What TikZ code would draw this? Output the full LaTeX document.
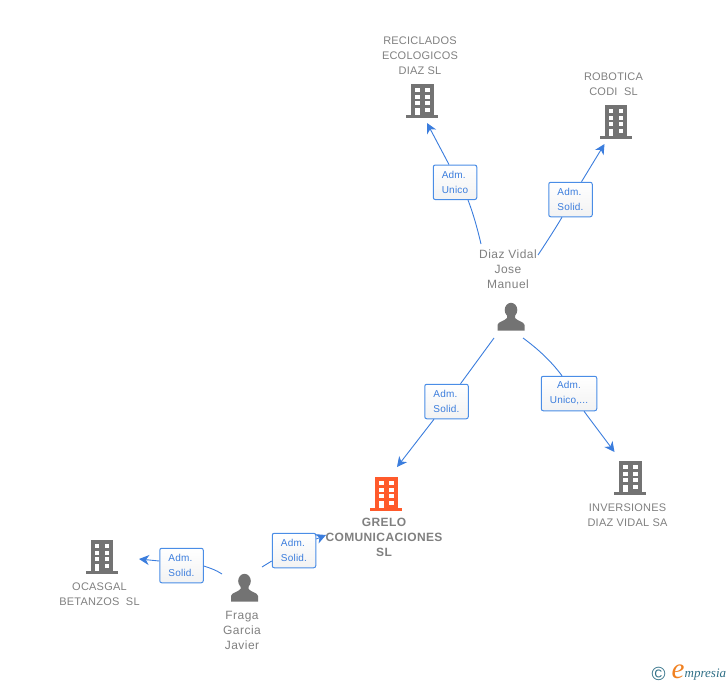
\documentclass[tikz,border=0pt]{standalone}
\usepackage{fontspec}
\setmainfont{Liberation Sans}
\newfontfamily\logofont{Liberation Serif}
\usetikzlibrary{arrows.meta,shadings}
\definecolor{linkblue}{HTML}{3B7DDD}
\definecolor{boxblue}{HTML}{4A8DE6}
\definecolor{labelgrey}{HTML}{808080}
\definecolor{icongrey}{HTML}{737373}
\definecolor{iconorange}{HTML}{FF5A2B}
\definecolor{logoteal}{HTML}{2F6F86}
\definecolor{logoorange}{HTML}{F08020}
\tikzset{
  iconbox/.style={minimum width=32pt,minimum height=34pt,inner sep=0pt,outer sep=0pt},
  buildingpic/.pic={
    \fill[#1] (-11,-17) rectangle (11.5,14);
    \fill[#1] (-16,13.5) rectangle (16,16.5);
    \foreach \yy in {-13,-6.3,0.3}{
      \fill[white] (-6.7,\yy) rectangle (-2.3,\yy+4);
      \fill[white] (3,\yy) rectangle (7.7,\yy+4);
    }
    \fill[white] (-6.7,7) rectangle (-2.3,14);
    \fill[white] (3,7) rectangle (7.7,11);
  },
  personpic/.pic={
    \fill[icongrey] (0,-7) ellipse [x radius=6.3,y radius=7.2];
    \fill[icongrey] (-13.5,13.5) -- (-13.5,8) .. controls (-13,4.5) and (-7,4.5) .. (-4,1) -- (-4,-2)
      -- (4,-2) -- (4,1) .. controls (7,4.5) and (13,4.5) .. (13.5,8) -- (13.5,13.5) -- cycle;
  },
  lbl/.style={text=labelgrey,align=center,inner sep=0pt,font=\fontsize{11}{15}\selectfont\addfontfeature{LetterSpace=2}},
  namelbl/.style={text=labelgrey,align=center,inner sep=0pt,font=\fontsize{12}{15}\selectfont\addfontfeature{LetterSpace=4}},
  rolebox/.style={draw=boxblue,line width=1pt,rounded corners=2pt,top color=white,bottom color=black!5,
    text=linkblue,align=left,inner sep=0pt,minimum height=34.5pt,font=\fontsize{10}{15}\selectfont\addfontfeature{LetterSpace=2}},
  link/.style={draw=linkblue,line width=0.9pt},
  arrowlink/.style={link,-{Stealth[length=10pt,width=10pt,inset=3pt]}},
}
\begin{document}
\begin{tikzpicture}[x=1pt,y=-1pt]
\useasboundingbox (0,0) rectangle (728,685);
% icons
\node[iconbox] (reciclados) at (422,101) {};
\node[iconbox] (robotica) at (615.5,122) {};
\node[iconbox] (inversiones) at (630,478) {};
\node[iconbox] (grelo) at (386,494) {};
\node[iconbox] (ocasgal) at (101.5,557) {};
\node[iconbox] (diaz) at (511,317) {};
\node[iconbox] (fraga) at (244.5,588) {};
\pic at (reciclados) {buildingpic=icongrey};
\pic at (robotica) {buildingpic=icongrey};
\pic at (inversiones) {buildingpic=icongrey};
\pic at (grelo) {buildingpic=iconorange};
\pic at (ocasgal) {buildingpic=icongrey};
\pic at (diaz) {personpic};
\pic at (fraga) {personpic};
% labels
\node[lbl] (reciclados text) at (420,56) {RECICLADOS\\ECOLOGICOS\\DIAZ SL};
\node[lbl] (robotica text) at (613.5,84) {ROBOTICA\\CODI\ \ SL};
\node[lbl] (inversiones text) at (627.5,515) {INVERSIONES\\DIAZ VIDAL SA};
\node[lbl,font=\fontsize{12}{15}\selectfont\bfseries\addfontfeature{LetterSpace=3.2}] (grelo text) at (384,537.5) {GRELO\\COMUNICACIONES\\SL};
\node[lbl] (ocasgal text) at (99.5,594) {OCASGAL\\BETANZOS\ \ SL};
\node[namelbl] (diaz text) at (508,269) {Diaz Vidal\\Jose\\Manuel};
\node[namelbl] (fraga text) at (242,630) {Fraga\\Garcia\\Javier};
% role boxes
\node[rolebox,minimum width=43.5pt] (b1) at (455,182.3) {Adm.\\Unico};
\node[rolebox,minimum width=43.5pt] (b2) at (570.5,199.5) {Adm.\\Solid.};
\node[rolebox,minimum width=43.5pt] (b3) at (446.5,401.5) {Adm.\\Solid.};
\node[rolebox,minimum width=55.5pt,align=center] (b4) at (569,393.5) {Adm.\\Unico,...};
\node[rolebox,minimum width=43.5pt] (b5) at (181.5,565.5) {Adm.\\Solid.};
\node[rolebox,minimum width=43.5pt] (b6) at (294,550.5) {Adm.\\Solid.};
% free ends of the connectors
\coordinate (s1) at (481,244);
\coordinate (s2) at (538,255);
\coordinate (s3) at (494,338);
\coordinate (s4) at (523,338);
\coordinate (s5) at (222,574);
\coordinate (s6) at (262,567);
\coordinate (t1) at (427,123);
\coordinate (t2) at (604.5,144);
\coordinate (t3) at (397,467);
\coordinate (t4) at (614.5,452);
\coordinate (t5) at (139,559);
\coordinate (t6) at (326,535);
% connectors
\draw[link] (s1) .. controls (477,227) and (473,213) .. ([xshift=13pt]b1.south);
\draw[arrowlink] ([xshift=-6pt]b1.north) -- (t1);
\draw[link] (s2) .. controls (546,243) and (555,229) .. ([xshift=-8.5pt]b2.south);
\draw[arrowlink] ([xshift=11pt]b2.north) -- (t2);
\draw[link] (s3) -- ([xshift=14pt]b3.north);
\draw[arrowlink] ([xshift=-12.5pt]b3.south) -- (t3);
\draw[link] (s4) .. controls (538,349) and (551,361) .. ([xshift=-7pt]b4.north);
\draw[arrowlink] ([xshift=15pt]b4.south) -- (t4);
\draw[link] (s5) .. controls (216,570) and (210,568) .. ([yshift=-0.5pt]b5.east);
\draw[arrowlink] ([yshift=4.5pt]b5.west) -- (t5);
\draw[link] (s6) -- ([yshift=-10.5pt]b6.west);
\draw[arrowlink] ([yshift=11.5pt]b6.east) -- (t6);
% logo
\node[text=logoteal,inner sep=0pt,font=\fontsize{19}{19}\selectfont] (logo c) at (658.5,674) {©};
\node[text=logoorange,inner sep=0pt,font=\logofont\itshape\fontsize{29}{29}\selectfont] (logo e) at (678,672) {e};
\node[text=logoteal,inner sep=0pt,anchor=west,font=\logofont\itshape\fontsize{13}{14}\selectfont] (logo t) at (684.5,674.5) {mpresia};
\end{tikzpicture}
\end{document}
